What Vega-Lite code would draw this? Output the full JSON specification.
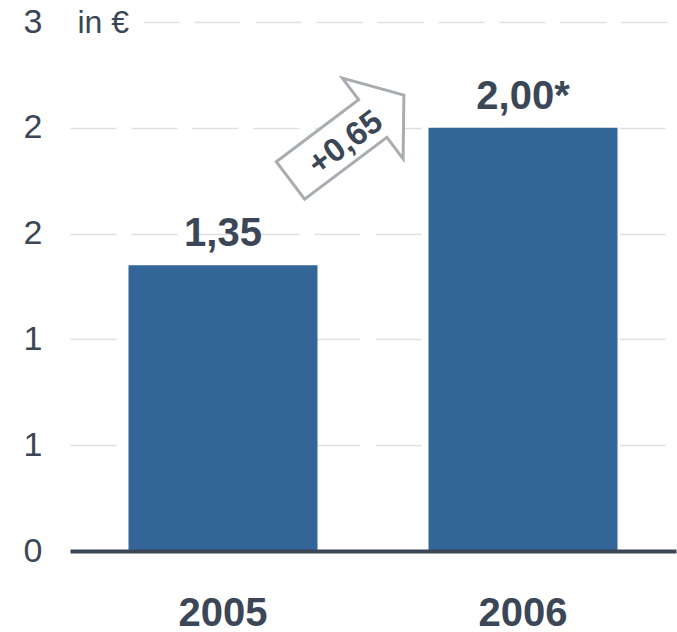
{
  "$schema": "https://vega.github.io/schema/vega-lite/v6.json",
  "width": 606,
  "height": 529,
  "autosize": {"type": "none"},
  "padding": {"left": 70, "top": 22, "right": 1, "bottom": 81},
  "background": "white",
  "config": {"view": {"stroke": null}, "font": "Liberation Sans"},
  "layer": [
    {
      "data": {"values": [
        {"year": "2005", "value": 1.35, "label": "1,35"},
        {"year": "2006", "value": 2.0, "label": "2,00*"}
      ]},
      "layer": [
        {
          "mark": {"type": "bar", "color": "#346598"},
          "encoding": {
            "x": {
              "field": "year", "type": "ordinal",
              "scale": {"paddingInner": 0.37, "paddingOuter": 0.195},
              "axis": {
                "title": null, "labelAngle": 0, "ticks": false,
                "labelFontSize": 40, "labelFontWeight": "bold", "labelColor": "#3b4756",
                "labelPadding": 42, "domainColor": "#3b4756", "domainWidth": 4, "zindex": 1
              }
            },
            "y": {
              "field": "value", "type": "quantitative",
              "scale": {"domain": [0, 2.5], "nice": false},
              "axis": {
                "values": [0, 0.5, 1, 1.5, 2, 2.5], "format": ".0f",
                "domain": false, "ticks": false,
                "labelFontSize": 34, "labelColor": "#3b4756", "labelPadding": 28,
                "gridColor": "#e0e0e0", "gridWidth": 1.5,
                "gridDash": {"condition": {"test": "datum.value >= 2.5", "value": [0, 74, 35, 15, 46, 15, 46, 15, 46, 15, 46, 15, 46, 15, 46, 15, 46, 15, 46, 15]}, "value": [46, 15]},
                "title": "in €", "titleAngle": 0, "titleX": 7, "titleY": 0,
                "titleAlign": "left", "titleBaseline": "middle",
                "titleFontSize": 32, "titleFontWeight": "normal", "titleColor": "#3b4756"
              }
            }
          }
        },
        {
          "mark": {"type": "text", "fontSize": 40, "fontWeight": "bold", "color": "#3b4756", "baseline": "alphabetic", "dy": -19},
          "encoding": {
            "x": {"field": "year", "type": "ordinal"},
            "y": {"field": "value", "type": "quantitative"},
            "text": {"field": "label"}
          }
        }
      ]
    },
    {
      "data": {"values": [{"year": "2005", "value": 1.953, "tvalue": 1.928, "label": "+0,65"}]},
      "layer": [
        {
          "mark": {
            "type": "point",
            "shape": "M-1,-0.331 L0.451,-0.331 L0.451,-0.711 L1,0 L0.451,0.711 L0.451,0.331 L-1,0.331 Z",
            "size": 20164, "filled": true, "fill": "white", "stroke": "#a8adb2",
            "strokeWidth": 3, "opacity": 1, "angle": 323
          },
          "encoding": {
            "x": {"field": "year", "type": "ordinal", "bandPosition": 1.157},
            "y": {"field": "value", "type": "quantitative"}
          }
        },
        {
          "mark": {"type": "text", "fontSize": 33, "fontWeight": "bold", "color": "#3b4756", "baseline": "middle", "align": "center", "angle": 323},
          "encoding": {
            "x": {"field": "year", "type": "ordinal", "bandPosition": 1.149},
            "y": {"field": "tvalue", "type": "quantitative"},
            "text": {"field": "label"}
          }
        }
      ]
    }
  ]
}
